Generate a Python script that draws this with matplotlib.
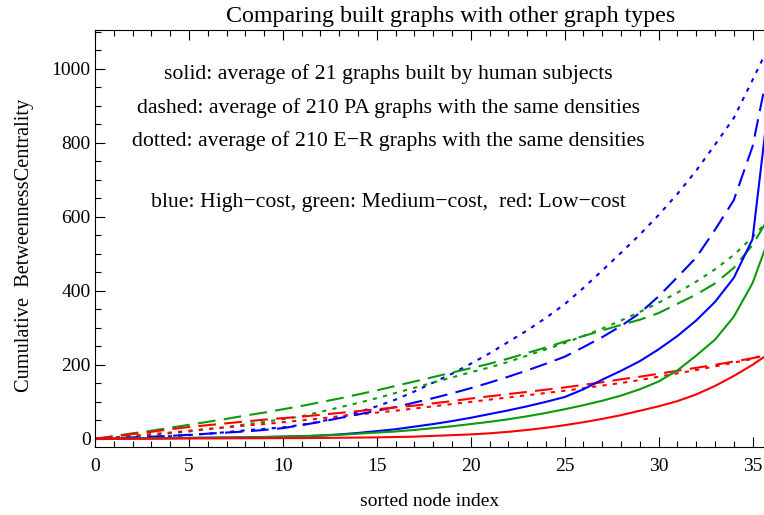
import matplotlib
matplotlib.use("Agg")
import matplotlib.pyplot as plt
from matplotlib.ticker import MultipleLocator

plt.rcParams['font.family'] = ['Liberation Serif', 'DejaVu Serif']

nodes = list(range(37))

# solid: human-built graphs
blue_solid = [0, 0.5, 1, 1.5, 2, 2.5, 3, 3.5, 4, 5, 6, 7, 9, 12, 16, 21, 26, 33, 40, 48,
              57, 67, 77, 88, 100, 113, 134, 160, 184, 210, 242, 278, 320, 370, 435, 540, 970]
green_solid = [0, 0.5, 1, 1.5, 2, 2.5, 3, 3.5, 4, 5, 6, 7, 9, 11, 14, 17, 20, 24, 29, 34,
               40, 46, 53, 61, 70, 80, 91, 103, 117, 134, 155, 185, 225, 268, 330, 421, 560]
red_solid = [0, 0.2, 0.4, 0.6, 0.8, 1, 1.2, 1.4, 1.6, 1.8, 2, 2, 2.5, 3, 3.5, 4, 5, 6, 8, 10,
             12, 15, 19, 24, 30, 37, 45, 54, 64, 76, 88, 102, 120, 143, 170, 200, 235]

# dashed: PA graphs
blue_dashed = [0, 2, 4, 6, 8, 11, 14, 17, 20, 24, 29, 37, 46, 56, 66, 76, 86, 98, 110, 123,
               137, 152, 168, 185, 203, 222, 248, 275, 305, 340, 385, 437, 490, 565, 645, 790, 1040]
green_dashed = [0, 7, 15, 22, 30, 38, 46, 54, 63, 71, 80, 89, 99, 109, 120, 131, 143, 155, 167, 179,
                191, 203, 217, 232, 247, 263, 278, 293, 308, 322, 340, 365, 390, 420, 462, 524, 610]
red_dashed = [0, 7, 13, 19, 26, 32, 37, 42, 47, 52, 56, 60, 65, 70, 75, 80, 85, 90, 96, 102,
              109, 115, 121, 127, 133, 139, 146, 153, 161, 168, 176, 184, 192, 200, 209, 218, 232]

# dotted: E-R graphs
blue_dotted = [0, 1, 3, 5, 7, 10, 14, 18, 23, 27, 31, 38, 47, 58, 72, 88, 106, 128, 152, 176,
               203, 231, 262, 293, 327, 364, 408, 455, 503, 552, 605, 662, 725, 795, 867, 970, 1075]
green_dotted = [0, 3, 7, 11, 15, 20, 26, 32, 39, 46, 53, 61, 73, 85, 97, 110, 124, 138, 152, 166,
                180, 193, 208, 225, 242, 259, 278, 298, 320, 343, 368, 395, 425, 458, 497, 545, 600]
red_dotted = [0, 4, 8, 13, 17, 22, 27, 31, 36, 40, 45, 50, 55, 61, 66, 71, 76, 82, 88, 94,
              100, 106, 112, 118, 124, 130, 137, 144, 151, 159, 168, 177, 186, 196, 206, 216, 232]

BLUE = '#0000ff'
GREEN = '#0a9a0a'
RED = '#ff0000'

fig = plt.figure(figsize=(7.64, 5.15), dpi=100)
ax = fig.add_axes([95 / 764, (515 - 447) / 515, 1 - 95 / 764 + 0.001, (447 - 30) / 515])

lw = 1.5
dash = (0, (8.5, 4))
dot = (0, (2, 3))

series = [
    (blue_dotted, BLUE, dot), (green_dotted, GREEN, dot), (red_dotted, RED, dot),
    (blue_dashed, BLUE, dash), (green_dashed, GREEN, dash), (red_dashed, RED, dash),
    (blue_solid, BLUE, '-'), (green_solid, GREEN, '-'), (red_solid, RED, '-'),
]
for vals, col, ls in series:
    ax.plot(nodes, vals, color=col, linestyle=ls, linewidth=lw, clip_on=True)

ax.set_xlim(0, 35.65)
ax.set_ylim(-22, 1105)

ax.xaxis.set_major_locator(MultipleLocator(5))
ax.xaxis.set_minor_locator(MultipleLocator(1))
ax.yaxis.set_major_locator(MultipleLocator(200))
ax.yaxis.set_minor_locator(MultipleLocator(50))
ax.tick_params(which='both', direction='in', top=True, right=False, labelsize=14, width=0.8)
ax.tick_params(which='major', length=7)
ax.tick_params(which='minor', length=4)
ax.tick_params(axis='x', which='major', pad=8)
ax.tick_params(axis='y', which='major', pad=3)
ax.spines['right'].set_visible(False)
for s in ['left', 'bottom', 'top']:
    ax.spines[s].set_linewidth(0.8)

ax.text((450 - 95) / 669, 1.008, 'Comparing built graphs with other graph types',
        transform=ax.transAxes, ha='center', va='bottom', fontsize=17.3)
ax.set_xlabel('sorted node index', fontsize=14, labelpad=13)
ax.set_ylabel('Cumulative  BetweennessCentrality', fontsize=14.7)
ax.yaxis.set_label_coords(-0.091, 0.484)

txt_kw = dict(ha='center', va='center', fontsize=15.7)
ax.text(15.6, 985, 'solid: average of 21 graphs built by human subjects', **txt_kw)
ax.text(15.6, 895, 'dashed: average of 210 PA graphs with the same densities', **txt_kw)
ax.text(15.6, 806, 'dotted: average of 210 E\u2212R graphs with the same densities', **txt_kw)
ax.text(15.6, 640, 'blue: High\u2212cost, green: Medium\u2212cost,  red: Low\u2212cost', **txt_kw)

fig.savefig('out.png', dpi=100)
